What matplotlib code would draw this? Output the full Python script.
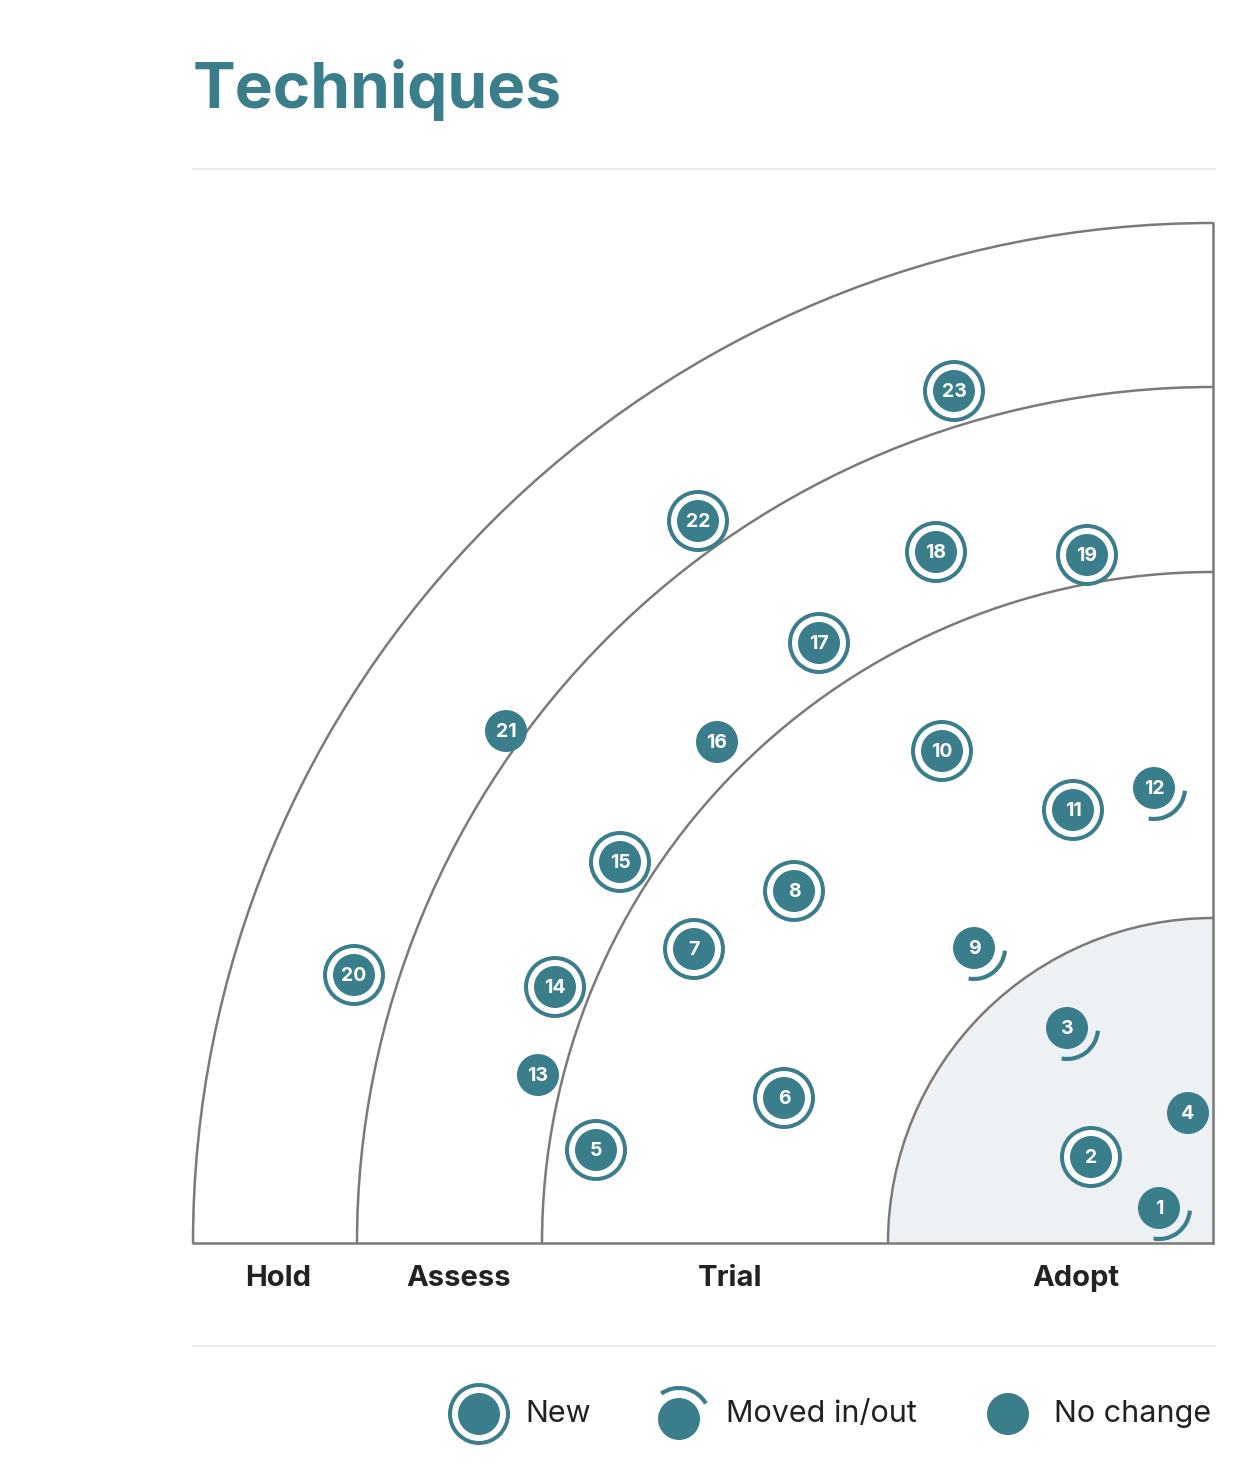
import matplotlib
matplotlib.use("Agg")
import matplotlib.pyplot as plt
from matplotlib.patches import Circle, Arc, Wedge

TEAL = "#3b7e8b"
GREY = "#7a7a7a"

# quadrant geometry (pixel units, centre bottom-right)
cx, cy = 1213, 1243
ring_names = ["Adopt", "Trial", "Assess", "Hold"]
ring_radii = [325, 671, 856, 1020]
ring_label_x = [1076, 730, 459, 278]

# blips: number, x, y, status
blip_ids = list(range(1, 24))
blip_x = [1159, 1091, 1067, 1188, 596, 784, 694, 794, 974, 942, 1073, 1154,
          538, 555, 620, 717, 819, 936, 1087, 354, 506, 698, 954]
blip_y = [1208, 1157, 1028, 1113, 1150, 1098, 949, 891, 948, 751, 810, 788,
          1075, 987, 862, 742, 643, 552, 555, 975, 731, 521, 391]
blip_status = ["moved", "new", "moved", "none", "new", "new", "new", "new", "moved",
               "new", "new", "moved", "none", "new", "new", "none", "new", "new",
               "new", "new", "none", "new", "new"]

fig = plt.figure(figsize=(12.44, 14.68), dpi=100)
ax = fig.add_axes([0, 0, 1, 1])
ax.set_xlim(0, 1244)
ax.set_ylim(1468, 0)
ax.axis("off")

ax.text(193, 90, "Techniques", fontsize=46, fontweight="bold", color=TEAL,
        family="Inter", va="center")
for yy in (169, 1346):
    ax.plot([193, 1215], [yy, yy], color="#e9e9e9", lw=1.2)

ax.add_patch(Wedge((cx, cy), ring_radii[0], 180, 270, facecolor="#edf1f4", edgecolor="none"))
for r in ring_radii:
    ax.add_patch(Arc((cx, cy), 2 * r, 2 * r, theta1=180, theta2=270, color=GREY, lw=1.8))
ax.plot([cx - ring_radii[-1], cx], [cy, cy], color=GREY, lw=1.8)
ax.plot([cx, cx], [cy, cy - ring_radii[-1]], color=GREY, lw=1.8)
for name, lx in zip(ring_names, ring_label_x):
    ax.text(lx, 1279, name, fontsize=21, fontweight="bold", color="#222222",
            family="Inter", ha="center", va="center")


def blip(x, y, status, label=None, r=21):
    if status == "new":
        ax.add_patch(Circle((x, y), r + 10, facecolor=TEAL, edgecolor="none", zorder=3))
        ax.add_patch(Circle((x, y), r + 6, facecolor="white", edgecolor="none", zorder=3))
    ax.add_patch(Circle((x, y), r, facecolor=TEAL, edgecolor="none", zorder=4))
    if label is not None:
        ax.text(x, y + 1, str(label), fontsize=14, fontweight="bold", color="white",
                family="Inter", ha="center", va="center", zorder=5)


for n, x, y, s in zip(blip_ids, blip_x, blip_y, blip_status):
    blip(x, y, s, n)
    if s == "moved":
        ax.add_patch(Arc((x, y), 62, 62, theta1=5, theta2=100, color=TEAL, lw=3, zorder=4))

# legend
blip(479, 1414, "new")
ax.text(525, 1414, "New", fontsize=22, color="#222222", family="Inter", va="center")
blip(679, 1419, "none")
ax.add_patch(Arc((679, 1419), 62, 62, theta1=235, theta2=330, color=TEAL, lw=3))
ax.text(726, 1414, "Moved in/out", fontsize=22, color="#222222", family="Inter", va="center")
blip(1008, 1414, "none")
ax.text(1054, 1414, "No change", fontsize=22, color="#222222", family="Inter", va="center")

fig.savefig("out.png", dpi=100)
